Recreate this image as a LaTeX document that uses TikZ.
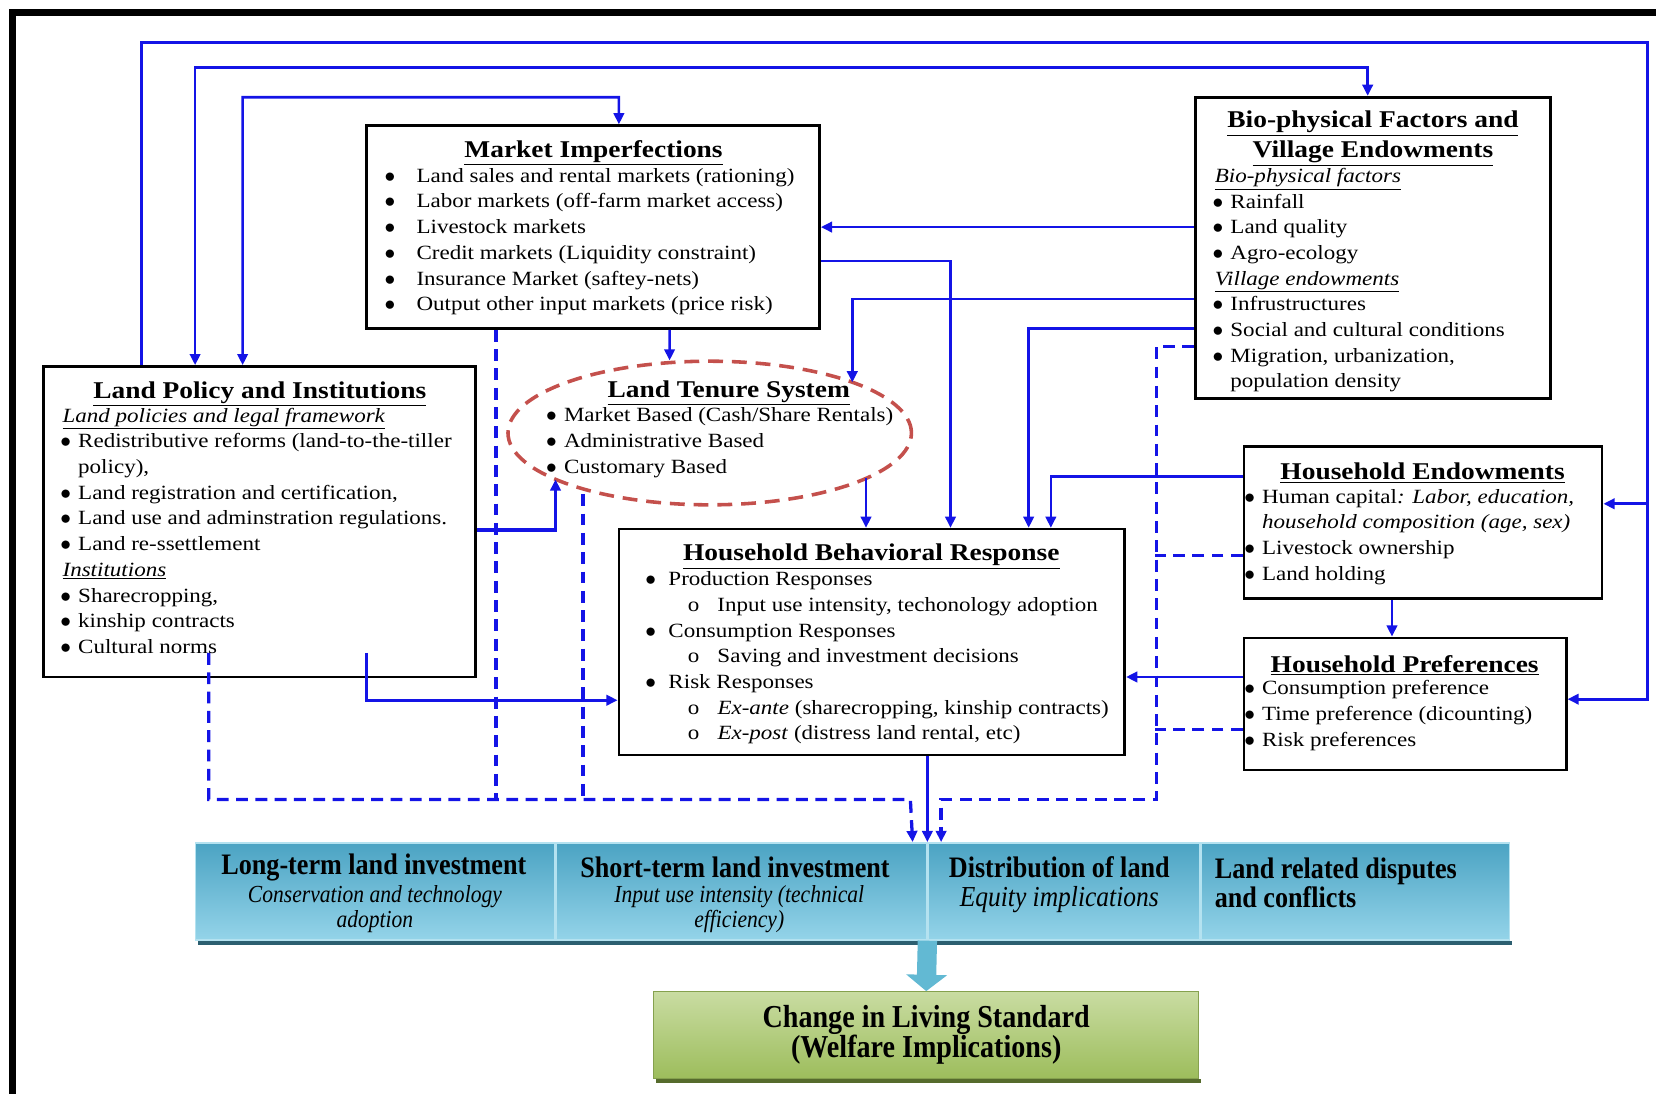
\documentclass[tikz,border=0pt]{standalone}
\usepackage{fontspec}
\setmainfont{Liberation Serif}[FakeStretch=1.14]
\newfontfamily\bandfont{Liberation Serif}[FakeStretch=0.88]
\usepackage{tikz}
\usetikzlibrary{arrows.meta,positioning,calc,shapes.geometric}
\definecolor{flow}{HTML}{1414E6}
\definecolor{tenure}{HTML}{C4504C}
\definecolor{bandtop}{HTML}{4BA3C3}
\definecolor{bandbot}{HTML}{94D4E9}
\definecolor{bandrule}{HTML}{B4E2F0}
\definecolor{bandshd}{HTML}{2C5F70}
\definecolor{weltop}{HTML}{C9DCA2}
\definecolor{welbot}{HTML}{9DBD5C}
\definecolor{welshd}{HTML}{566B2C}
\definecolor{bigarr}{HTML}{62B9D3}
\newcommand{\px}{0.025cm}
\newcommand{\bl}[1][10.5pt]{\makebox[#1][l]{\hspace*{-1.5pt}$\bullet$}}
\newcommand{\subo}{\hspace*{27pt}\makebox[20pt][l]{o}}
\newcommand{\undl}[1]{\underline{#1}}
\tikzset{
  box/.style 2 args={rectangle, draw=black, line width=1.8pt, fill=white, inner sep=0pt,
              minimum width=#1*\px, minimum height=#2*\px},
  ttl/.style={font=\fontsize{16.2}{20}\selectfont\bfseries, align=center, inner sep=0pt},
  lst/.style={font=\fontsize{13.6}{17.3}\selectfont, align=left, inner sep=0pt, anchor=north west},
  tenring/.style={ellipse, draw=tenure, line width=2.4pt, dash pattern=on 10pt off 6pt,
              minimum width=382*\px, minimum height=136*\px, inner sep=0pt},
  outc/.style={rectangle, draw=bandrule, line width=1pt, top color=bandtop, bottom color=bandbot,
              minimum height=92*\px, minimum width=#1*\px, inner sep=0pt},
  outhead/.style={font=\bandfont\fontsize{20}{20}\selectfont\bfseries, inner sep=0pt},
  outsub/.style={font=\bandfont\fontsize{16.5}{16.5}\selectfont\itshape, align=center, inner sep=0pt},
  welbox/.style={rectangle, draw=welbot!85!black, line width=0.8pt, top color=weltop, bottom color=welbot,
              minimum width=516*\px, minimum height=82*\px, align=center, inner sep=0pt,
              font=\bandfont\fontsize{21.5}{20}\selectfont\bfseries},
  ln/.style={line width=1.8pt, draw=flow},
  fl/.style={ln, -{Triangle[length=7.5pt,width=7pt]}},
  fl2/.style={ln, {Triangle[length=7.5pt,width=7pt]}-{Triangle[length=7.5pt,width=7pt]}},
  dsh/.style={line width=2.2pt, draw=flow, dash pattern=on 8pt off 5pt},
  dfl/.style={dsh, -{Triangle[length=7.5pt,width=7pt]}},
}

\begin{document}
\begin{tikzpicture}[x=\px, y=-\px]
  \useasboundingbox (0,0) rectangle (1568,1035);
  \draw[line width=4.7pt] (11.8,1045) -- (11.8,11.8) -- (1580,11.8);

  % boxes
  \node[box={429}{192}] (mkt) at (561.5,215) {};
  \node[ttl] (mkt-t) at (562,145) {\undl{Market Imperfections}};
  \node[lst] (mkt-l) at (366,159) {\bl[20pt]Land sales and rental markets (rationing)\\ \bl[20pt]Labor markets (off-farm market access)\\ \bl[20pt]Livestock markets\\ \bl[20pt]Credit markets (Liquidity constraint)\\ \bl[20pt]Insurance Market (saftey-nets)\\ \bl[20pt]Output other input markets (price risk)};

  \node[box={336}{285}] (bio) at (1300,234.5) {};
  \node[ttl] (bio-t) at (1300,131) {\undl{Bio-physical Factors and}\\\undl{Village Endowments}};
  \node[lst] (bio-l) at (1150,159) {\undl{\textit{Bio-physical factors}}\\ \bl Rainfall\\ \bl Land quality\\ \bl Agro-ecology\\ \undl{\textit{Village endowments}}\\ \bl Infrustructures\\ \bl Social and cultural conditions\\ \bl Migration, urbanization,\\ \hspace*{10.5pt}population density};

  \node[box={409}{294}] (lpi) at (245.5,494) {};
  \node[ttl] (lpi-t) at (246,373) {\undl{Land Policy and Institutions}};
  \node[lst] (lpi-l) at (59,386) {\undl{\textit{Land policies and legal framework}}\\ \bl Redistributive reforms (land-to-the-tiller\\ \hspace*{10.5pt}policy),\\ \bl Land registration and certification,\\ \bl Land use and adminstration regulations.\\ \bl Land re-ssettlement\\ \undl{\textit{Institutions}}\\ \bl Sharecropping,\\ \bl kinship contracts\\ \bl Cultural norms};

  \node[tenring] (lts) at (672,410) {};
  \node[ttl] (lts-t) at (690,372) {\undl{Land Tenure System}};
  \node[lst] (lts-l) at (519,386) {\bl Market Based (Cash/Share Rentals)\\ \bl Administrative Based\\ \bl Customary Based};

  \node[box={479}{214}] (hbr) at (825.5,608) {};
  \node[ttl] (hbr-t) at (825,527) {\undl{Household Behavioral Response}};
  \node[lst] (hbr-l) at (613,541) {\bl[14pt]Production Responses\\ \subo Input use intensity, techonology adoption\\ \bl[14pt]Consumption Responses\\ \subo Saving and investment decisions\\ \bl[14pt]Risk Responses\\ \subo\textit{Ex-ante} (sharecropping, kinship contracts)\\ \subo\textit{Ex-post} (distress land rental, etc)};

  \node[box={339}{144}] (hhe) at (1347.5,495) {};
  \node[ttl] (hhe-t) at (1347,448) {\undl{Household Endowments}};
  \node[lst] (hhe-l) at (1180,463) {\bl Human capital\textit{: Labor, education,}\\ \hspace*{10.5pt}\textit{household composition (age, sex)}\\ \bl Livestock ownership\\ \bl Land holding};

  \node[box={305}{125}] (hhp) at (1330.5,666.5) {};
  \node[ttl] (hhp-t) at (1330,630) {\undl{Household Preferences}};
  \node[lst] (hhp-l) at (1180,644) {\bl Consumption preference\\ \bl Time preference (dicounting)\\ \bl Risk preferences};

  % outcome band
  \node[outc=340] (c1) at (355,844) {};
  \node[outc=351, right=0pt of c1] (c2) {};
  \node[outc=257, right=0pt of c2] (c3) {};
  \node[outc=292, right=0pt of c3] (c4) {};
  \fill[bandshd] ($(c1.south west)+(3,0)$) rectangle ($(c4.south east)+(2,4)$);
  \node[outhead] (c1-h) at (354,821) {Long-term land investment};
  \node[outsub] (c1-s) at (355,861) {Conservation and technology\\adoption};
  \node[outhead] (c2-h) at (696,821) {Short-term land investment};
  \node[outsub] (c2-s) at (700,861) {Input use intensity (technical\\efficiency)};
  \node[outhead] (c3-h) at (1003,821) {Distribution of land};
  \node[outsub, font=\bandfont\fontsize{19.5}{24}\selectfont\itshape] (c3-s) at (1003,852) {Equity implications};
  \node[outhead, align=left, anchor=west] (c4-h) at (1150,836) {Land related disputes\\and conflicts};

  \node[welbox] (wel) at (877,980) {Change in Living Standard\\(Welfare Implications)};
  \fill[welshd] ($(wel.south west)+(3,0)$) rectangle ($(wel.south east)+(2,4)$);
  \draw[bigarr, line width=13pt, -{Triangle[length=11pt,width=27pt]}] (c2.south east) -- (wel.north);

  % connectors
  \coordinate (tapE) at (1560,477);
  \coordinate (busL) at (862,757);
  \coordinate (busR) at (1095,757);

  \draw[fl] ($(lpi.north west)+(94,0)$) |- (1560,40) |- ($(hhp.east)+(0,-4.5)$);
  \draw[fl] (tapE) -- (hhe.east |- tapE);
  \draw[fl2] ($(lpi.north west)+(145,0)$) |- (1295,64) -- ($(bio.north)+(-5,0)$);
  \draw[fl2] ($(lpi.north west)+(190,0)$) |- (586,92) -- ($(mkt.north)+(24.5,0)$);

  \draw[fl] (bio.west |- mkt.east) -- (mkt.east);
  \draw[fl] ($(bio.west)+(0,48.5)$) -| ($(lts.center)+(135,-48)$);
  \draw[fl] ($(bio.west)+(0,76.5)$) -| ($(hbr.north)+(148.5,0)$);
  \draw[dfl] ($(bio.west)+(0,93.5)$) -| (busR) -| ($(c3.north west)+(13,0)$);

  \draw[fl] ($(mkt.east)+(0,32)$) -| ($(hbr.north)+(74.5,0)$);
  \draw[fl] ($(mkt.south)+(72.5,0)$) -- ($(lts.north)+(-38,1)$);
  \draw[dsh] ($(mkt.south west)+(124,0)$) -- ($(mkt.south west)+(124,446)$);

  \draw[fl] ($(hhe.west)+(0,-44)$) -| ($(hbr.north)+(169.5,0)$);
  \draw[fl] ($(hhp.west)+(0,-25.5)$) -- ($(hbr.east)+(0,33)$);
  \draw[fl] ($(hhe.south)+(-29.5,0)$) -- ($(hhp.north)+(-12.5,0)$);
  \draw[dsh] ($(hhe.west)+(0,31)$) -- ++(-83,0);
  \draw[dsh] ($(hhp.west)+(0,24.5)$) -- ++(-83,0);

  \draw[fl, line width=2.3pt] ($(lpi.east)+(0,8)$) -| ($(lts.center)+(-146,44)$);
  \draw[fl] ($(lpi.south west)+(307,-24)$) |- ($(hbr.west)+(0,55)$);
  \draw[dfl] ($(lpi.south west)+(158,-24)$) |- (busL) -- ($(c2.north east)+(-14,0)$);
  \draw[dsh] ($(lts.center)+(-120,58)$) -- ($(lts.center)+(-120,347)$);
  \draw[fl] ($(lts.center)+(148,43)$) -- ($(hbr.north)+(-5.5,0)$);
  \draw[fl] (hbr.south -| c2.north east) -- (c2.north east);
\end{tikzpicture}
\end{document}
